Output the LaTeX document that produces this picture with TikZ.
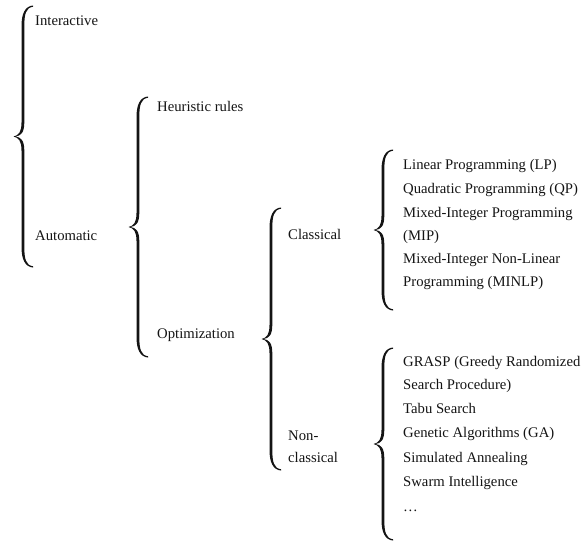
\documentclass[tikz,border=0pt]{standalone}
\usepackage{fontspec}
\setmainfont{Liberation Serif}
\definecolor{inkcol}{RGB}{20,20,20}
\newcommand\mybrace[3]{%
  \pgfmathsetmacro\bL{#3-#2}\pgfmathsetmacro\bm{\bL/2}%
  \begin{scope}[shift={(#1,#2)}]
  \fill[inkcol] (10,-0.5) .. controls (2,0) and (-1.5,8) .. (-1.5,20)
    -- (-1.5,{\bm-14}) .. controls (-1.5,{\bm-5}) and (-4,{\bm-1}) .. (-9.5,\bm)
    .. controls (-4,{\bm+1}) and (-1.5,{\bm+5}) .. (-1.5,{\bm+14})
    -- (-1.5,{\bL-20}) .. controls (-1.5,{\bL-8}) and (2,\bL) .. (10,{\bL+0.5})
    -- (10,{\bL-0.7}) .. controls (3,{\bL-1.6}) and (1.3,{\bL-8}) .. (1.3,{\bL-20})
    -- (1.3,{\bm+14}) .. controls (1.3,{\bm+4}) and (-2,{\bm+0.7}) .. (-7.5,\bm)
    .. controls (-2,{\bm-0.7}) and (1.3,{\bm-4}) .. (1.3,{\bm-14})
    -- (1.3,20) .. controls (1.3,8) and (3,1.6) .. (10,0.7) -- cycle;
  \end{scope}}
\begin{document}
\begin{tikzpicture}[x=1pt,y=-1pt,
  lbl/.style={anchor=base west,inner sep=0pt,text=inkcol,font=\fontsize{14.7}{17}\selectfont}]
\useasboundingbox (0,0) rectangle (582,542);
% braces
\mybrace{23}{6}{267}
\mybrace{138}{97}{357}
\mybrace{271}{208}{470}
\mybrace{383}{150}{310}
\mybrace{383}{348}{540}
% level 1
\node[lbl] (inter) at (35,25) {Interactive};
\node[lbl] (auto) at (35,240) {Automatic};
% level 2
\node[lbl] (heur) at (157,111) {Heuristic rules};
\node[lbl] (opt) at (157,338) {Optimization};
% level 3
\node[lbl] (class) at (288,239) {Classical};
\node[lbl] (noncl) at (288,440) {Non-};
\node[lbl] (noncl2) at (288,462) {classical};
% classical methods
\node[lbl] (lp) at (403,169) {Linear Programming (LP)};
\node[lbl] (qp) at (403,193) {Quadratic Programming (QP)};
\node[lbl] (mip) at (403,217) {Mixed-Integer Programming};
\node[lbl] (mip2) at (403,240) {(MIP)};
\node[lbl] (minlp) at (403,263) {Mixed-Integer Non-Linear};
\node[lbl] (minlp2) at (403,286) {Programming (MINLP)};
% non-classical methods
\node[lbl] (grasp) at (403,366) {GRASP (Greedy Randomized};
\node[lbl] (grasp2) at (403,389) {Search Procedure)};
\node[lbl] (tabu) at (403,413) {Tabu Search};
\node[lbl] (ga) at (403,437) {Genetic Algorithms (GA)};
\node[lbl] (sa) at (403,462) {Simulated Annealing};
\node[lbl] (swarm) at (403,486) {Swarm Intelligence};
\node[lbl] (dots) at (403,511) {\ldots};
\end{tikzpicture}
\end{document}
